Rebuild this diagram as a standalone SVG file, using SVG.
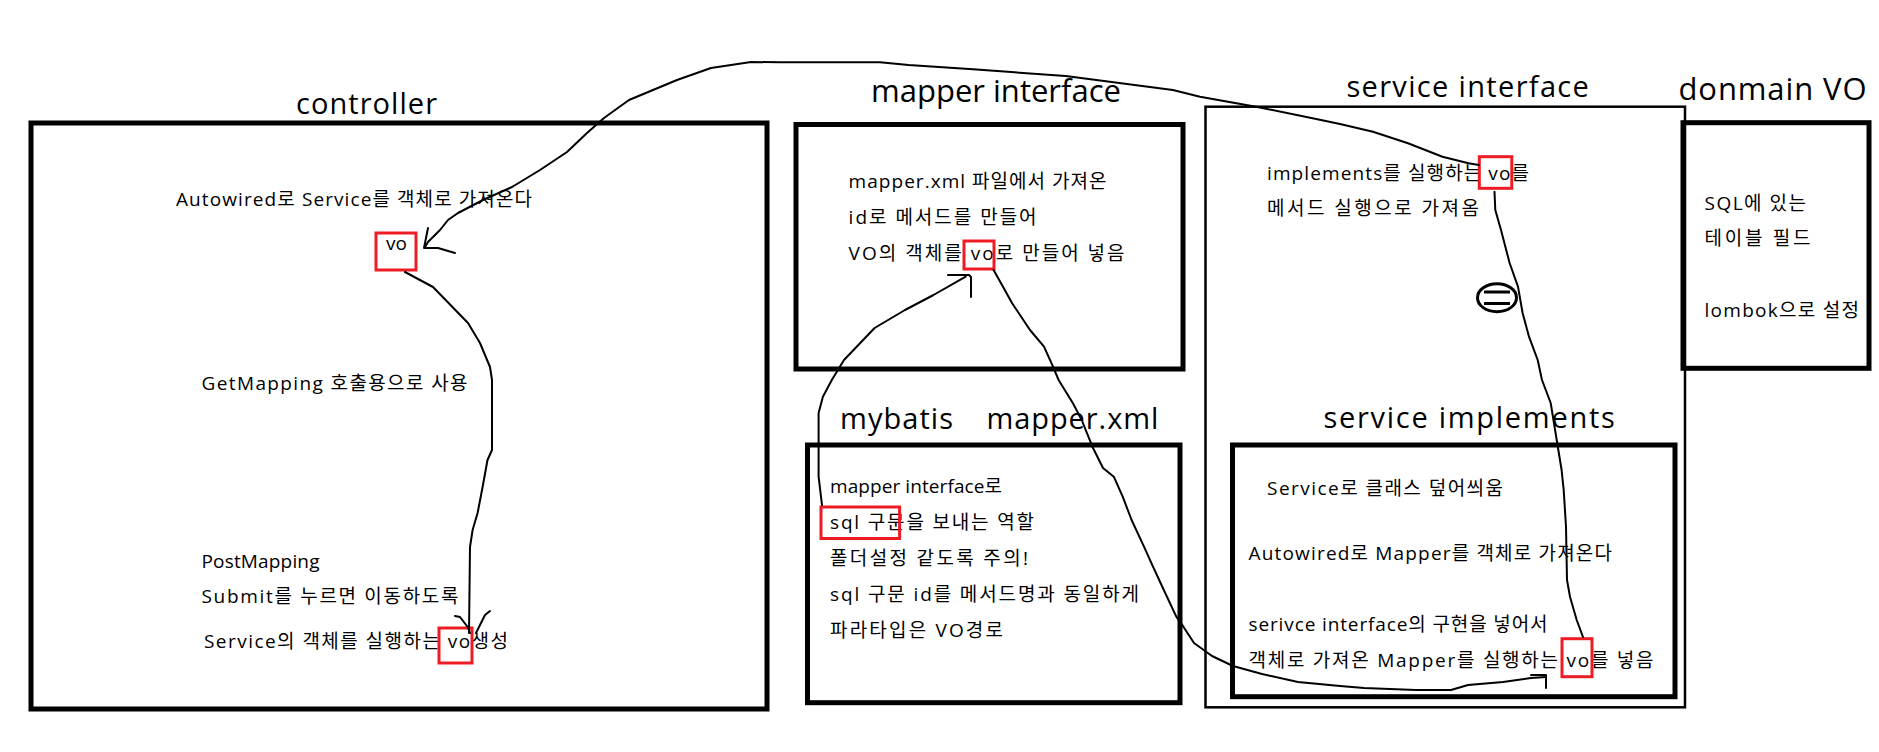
<svg xmlns="http://www.w3.org/2000/svg" width="1879" height="752" viewBox="0 0 1879 752">
<style>
.box{fill:none;stroke:#000;stroke-width:5}
.thin{fill:none;stroke:#000;stroke-width:2.5}
.red{fill:none;stroke:#ed1c24;stroke-width:3}
.ln{fill:none;stroke:#000;stroke-width:2;stroke-linejoin:round;stroke-linecap:round}
text{font-family:"Open Sans","Noto Sans CJK KR",sans-serif;fill:#000}
.t{font-size:19px}
.h{font-size:29px}
</style>
<rect width="1879" height="752" fill="#fff"/>
<g id="controller">
<rect class="box" x="31" y="123" width="736" height="586"/>
<text class="h" x="296" y="114" textLength="141" font-size="28">controller</text>
<text class="t" x="176" y="206" textLength="356">Autowired로 Service를 객체로 가져온다</text>
<text class="t" x="386" y="250">vo</text>
<rect class="red" x="376" y="233" width="40" height="37"/>
<text class="t" x="201.5" y="390" textLength="266">GetMapping 호출용으로 사용</text>
<text class="t" x="201.5" y="568" textLength="118">PostMapping</text>
<text class="t" x="201.5" y="603" textLength="257">Submit를 누르면 이동하도록</text>
<text class="t" x="204" y="648" textLength="304">Service의 객체를 실행하는 vo생성</text>
<rect class="red" x="439" y="628" width="33" height="35"/>
</g>
<g id="mapper-interface">
<rect class="box" x="796" y="124.5" width="387" height="244.5"/>
<text class="h" x="871" y="102" textLength="250" style="font-size:31px">mapper interface</text>
<text class="t" x="848.6" y="188" textLength="258">mapper.xml 파일에서 가져온</text>
<text class="t" x="848.6" y="224" textLength="188">id로 메서드를 만들어</text>
<text class="t" x="848.6" y="260" textLength="276">VO의 객체를 vo로 만들어 넣음</text>
<rect class="red" x="964" y="241" width="30" height="28"/>
</g>
<g id="mybatis-mapper-xml">
<rect class="box" x="807.5" y="445" width="372.5" height="257.7"/>
<text class="h" x="840" y="429" textLength="113">mybatis</text>
<text class="h" x="986.4" y="429" textLength="172">mapper.xml</text>
<text class="t" x="830" y="493" textLength="172">mapper interface로</text>
<text class="t" x="830" y="529" textLength="204">sql 구문을 보내는 역할</text>
<text class="t" x="830" y="565" textLength="198">폴더설정 같도록 주의!</text>
<text class="t" x="830" y="601" textLength="309">sql 구문 id를 메서드명과 동일하게</text>
<text class="t" x="830" y="637" textLength="173">파라타입은 VO경로</text>
<rect class="red" x="821" y="507" width="78.6" height="31.5"/>
</g>
<g id="service-interface">
<rect class="thin" x="1205.5" y="106.7" width="479.5" height="600.6"/>
<text class="h" x="1346.4" y="96.7" textLength="242.5">service interface</text>
<text class="t" x="1267" y="180" textLength="262">implements를 실행하는 vo를</text>
<text class="t" x="1267" y="215" textLength="212">메서드 실행으로 가져옴</text>
<rect class="red" x="1479.3" y="156.7" width="32.5" height="31.6"/>
<ellipse cx="1497" cy="297.7" rx="19.5" ry="14" fill="none" stroke="#000" stroke-width="3"/>
<path d="M1484,292 H1510 M1484,303.5 H1510" stroke="#000" stroke-width="3" fill="none"/>
</g>
<g id="domain-vo">
<rect class="box" x="1683" y="122.7" width="186" height="245.6"/>
<text class="h" x="1678.5" y="100" textLength="188" style="font-size:31px">donmain VO</text>
<text class="t" x="1704.5" y="210" textLength="101.5">SQL에 있는</text>
<text class="t" x="1704.5" y="245" textLength="106">테이블 필드</text>
<text class="t" x="1704.5" y="316.7" textLength="154.5">lombok으로 설정</text>
</g>
<g id="service-implements">
<rect class="box" x="1232.5" y="445" width="442.5" height="251.7"/>
<text class="h" x="1323.4" y="428.3" textLength="291.4">service implements</text>
<text class="t" x="1267" y="495" textLength="236">Service로 클래스 덮어씌움</text>
<text class="t" x="1248.5" y="560" textLength="363.5">Autowired로 Mapper를 객체로 가져온다</text>
<text class="t" x="1248.5" y="630.7" textLength="299">serivce interface의 구현을 넣어서</text>
<text class="t" x="1248.5" y="666.7" textLength="405">객체로 가져온 Mapper를 실행하는 vo를 넣음</text>
<rect class="red" x="1562" y="638.7" width="30" height="38"/>
</g>
<g id="connectors">
<path class="ln" d="M1479,165 L1468.5,163.3 L1442.5,156.7 L1408,143.3 L1373,131.7 L1340,124 L1312.6,118.3 L1256,106.7 L1200,96.7 L1172.9,90 L1065.7,76 L973,69.3 L908.6,65 L880,62.3 L780,62.3 L751,62 L711,68 L677,80 L629,100 L604,118 L587,133 L567,152 L540,170 L512,187 L483,200 L458,213 L448,220 L440,230 L428,242 L425,247"/>
<path class="ln" d="M428,228 L424,248 L438,248 L455,253"/>
<path class="ln" d="M405,272 L433,287 L468,323 L480,343 L490,367 L492,380 L492,450 L487.5,460 L482.6,487 L477.6,513 L472.6,530 L470,547 L469,633"/>
<path class="ln" d="M455,616 L460,617 L467.7,627 L470,633 M490,611 L485,615 L480,625 L476,633"/>
<path class="ln" d="M822,505 L818.6,476.7 L818.6,413 L822.9,396.7 L831.8,380 L844,360 L874.6,328 L905,310 L933.5,295 L965.7,276.7"/>
<path class="ln" d="M948,275 L969,275 L971,277 L971,297"/>
<path class="ln" d="M993.6,270 L1003,286.7 L1012,303 L1030,330 L1044,346.7 L1053,366.7 L1058.6,380 L1072.8,403 L1081.7,420 L1092.4,446.7 L1103,468 L1113.8,476.7 L1122.7,496.7 L1131.6,520 L1144,546.7 L1153,566.7 L1163.8,590 L1176.3,616.7 L1183.4,626.7 L1194,643 L1212,656 L1233,666 L1262,674 L1298,682 L1340,686 L1364,688 L1416,690 L1451,690 L1468,685 L1503,682 L1531,678 L1546,677"/>
<path class="ln" d="M1531,675 L1546,675 L1546,688"/>
<path class="ln" d="M1494.5,191.7 L1495.3,210 L1501,230 L1509.6,263 L1518,286.7 L1522.6,313 L1529,336.7 L1537.7,360 L1542,380 L1550.7,403 L1557.2,443 L1561.6,470 L1563.7,490 L1566,526.7 L1567,580 L1570,596.7 L1576.7,620 L1583,637"/>
</g>
</svg>
